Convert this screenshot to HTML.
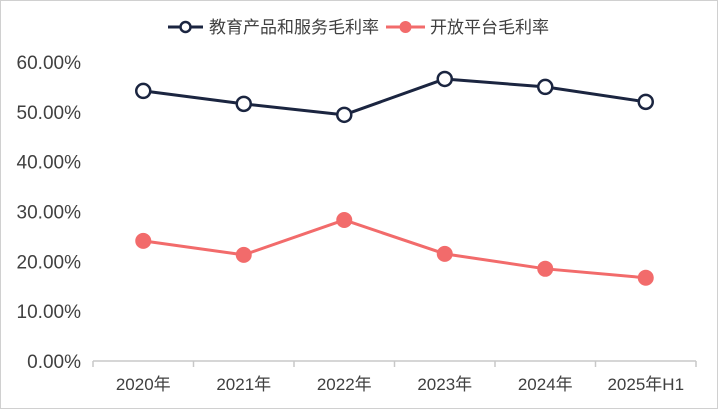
<!DOCTYPE html>
<html><head><meta charset="utf-8"><style>
html,body{margin:0;padding:0;background:#fff}
body{width:718px;height:409px;overflow:hidden}
svg{display:block;font-family:"Liberation Sans","Noto Sans CJK SC",sans-serif}
</style></head><body>
<svg id="chart" width="718" height="409">
<rect x="0.5" y="0.5" width="717" height="408" fill="#fff" stroke="#d0d0d0"/>
<g>
 <g>
  <line x1="168" y1="27" x2="203" y2="27" stroke="#1b2540" stroke-width="3"/>
  <circle cx="185.5" cy="27" r="5" fill="#fff" stroke="#1b2540" stroke-width="2.5"/>
  <text x="209" y="33" font-size="17" fill="#404040">教育产品和服务毛利率</text>
 </g>
 <g>
  <line x1="386" y1="27" x2="425" y2="27" stroke="#f26b6b" stroke-width="3"/>
  <circle cx="405.5" cy="27" r="6" fill="#f26b6b"/>
  <text x="430" y="33" font-size="17" fill="#404040">开放平台毛利率</text>
 </g>
</g>
<g id="axes"></g>
<g id="series"></g>
</svg>
<script>
const categories=["2020年","2021年","2022年","2023年","2024年","2025年H1"];
const eduMargin=[54.2,51.6,49.4,56.6,55.0,52.0];
const platformMargin=[24.1,21.3,28.3,21.5,18.5,16.7];
const yTicks=[0,10,20,30,40,50,60];
const NS="http://www.w3.org/2000/svg";
const x0=93,x1=696,y0=361,yTop=62,yMax=60;
const band=(x1-x0)/categories.length;
const xs=i=>x0+band*(i+0.5);
const ys=v=>y0-(v/yMax)*(y0-yTop);
function mk(tag,attrs,parent){const e=document.createElementNS(NS,tag);for(const k in attrs)e.setAttribute(k,attrs[k]);parent.appendChild(e);return e;}
const axes=document.getElementById('axes'),series=document.getElementById('series');
yTicks.forEach(t=>{
 const tx=mk('text',{x:81,y:ys(t)+7,'text-anchor':'end','font-size':19,fill:'#404040'},axes);
 tx.textContent=t.toFixed(2)+'%';
 
 
});
const ax=mk('line',{x1:x0,y1:y0,x2:x1,y2:y0,stroke:'#c8c8c8','stroke-width':1.5},axes);


for(let i=0;i<=categories.length;i++){
 const tk=mk('line',{x1:x0+band*i,y1:y0,x2:x0+band*i,y2:y0+6,stroke:'#c8c8c8','stroke-width':1.5},axes);
 
 
}
categories.forEach((c,i)=>{
 const tx=mk('text',{x:xs(i),y:390,'text-anchor':'middle','font-size':17,fill:'#404040'},axes);
 tx.textContent=c;
 
 
});
function draw(vals,color,hollow,name){
 const pts=vals.map((v,i)=>xs(i)+','+ys(v)).join(' ');
 const pl=mk('polyline',{points:pts,fill:'none',stroke:color,'stroke-width':3,'stroke-linejoin':'round'},series);
 
 
 vals.forEach((v,i)=>{
  const c=hollow?mk('circle',{cx:xs(i),cy:ys(v),r:7,fill:'#fff',stroke:color,'stroke-width':2.5},series)
               :mk('circle',{cx:xs(i),cy:ys(v),r:8,fill:color},series);
  
  
 });
}
draw(eduMargin,'#1b2540',true,'education-margin');
draw(platformMargin,'#f26b6b',false,'open-platform-margin');
</script>
</body></html>
